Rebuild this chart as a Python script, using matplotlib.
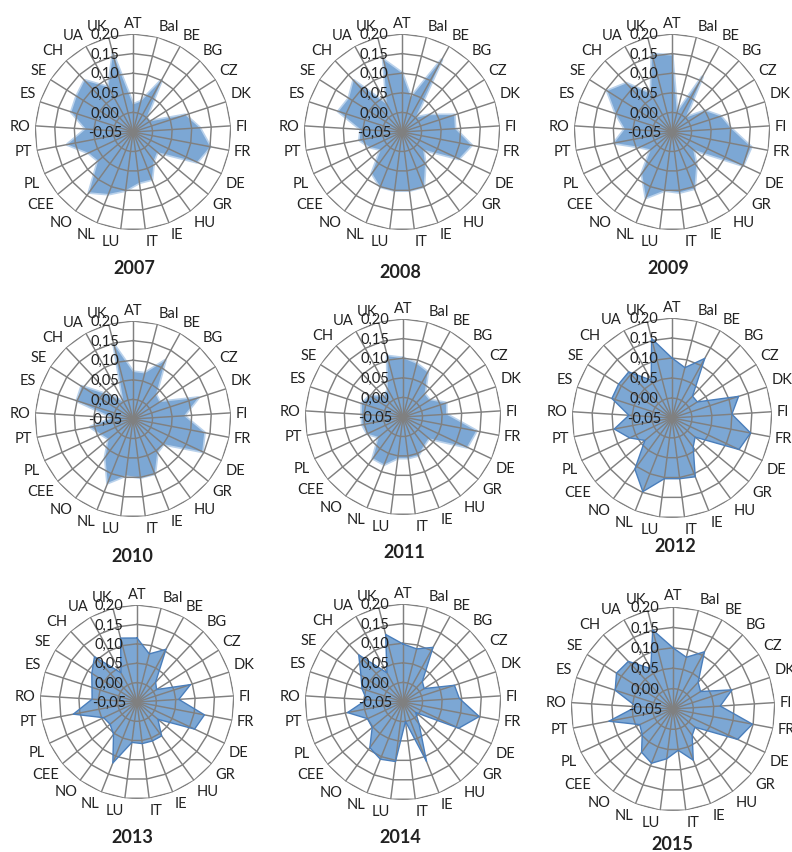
import numpy as np
import matplotlib.pyplot as plt

plt.rcParams['font.family'] = ['Lato', 'DejaVu Sans']

categories = ["AT", "Bal", "BE", "BG", "CZ", "DK", "FI", "FR", "DE", "GR", "HU", "IE",
              "IT", "LU", "NL", "NO", "CEE", "PL", "PT", "RO", "ES", "SE", "CH", "UA", "UK"]

years = ["2007", "2008", "2009", "2010", "2011", "2012", "2013", "2014", "2015"]

v2007 = [0.02, 0.03, 0.10, 0.00, 0.00, 0.09, 0.12, 0.15, 0.13, 0.03, 0.04, 0.08, 0.08,
         0.10, 0.12, 0.14, 0.065, 0.075, 0.12, 0.07, 0.115, 0.12, 0.13, 0.08, 0.155]
v2008 = [0.10, 0.04, 0.16, 0.00, 0.03, 0.09, 0.085, 0.13, 0.11, 0.02, 0.05, 0.10, 0.10,
         0.10, 0.10, 0.08, 0.02, 0.04, 0.06, 0.055, 0.12, 0.11, 0.13, 0.03, 0.14]
v2009 = [0.145, 0.00, 0.11, 0.00, 0.05, 0.08, 0.10, 0.155, 0.15, 0.02, 0.055, 0.105, 0.105,
         0.10, 0.13, 0.08, 0.02, 0.04, 0.10, 0.07, 0.10, 0.145, 0.12, 0.06, 0.155]
v2010 = [0.07, 0.07, 0.12, 0.035, 0.03, 0.125, 0.08, 0.135, 0.145, 0.05, 0.055, 0.10, 0.10,
         0.095, 0.125, 0.07, 0.03, 0.04, 0.06, 0.00, 0.10, 0.105, 0.03, 0.00, 0.145]
v2011 = [0.10, 0.09, 0.08, 0.03, 0.03, 0.065, 0.06, 0.14, 0.13, 0.035, 0.04, 0.055, 0.055,
         0.055, 0.08, 0.08, 0.03, 0.05, 0.055, 0.055, 0.06, 0.05, 0.02, 0.03, 0.11]
v2012 = [0.10, 0.08, 0.12, 0.025, 0.025, 0.125, 0.10, 0.15, 0.135, 0.025, 0.04, 0.108, 0.103,
         0.103, 0.148, 0.108, 0.038, 0.067, 0.097, 0.058, 0.108, 0.108, 0.108, 0.058, 0.155]
v2013 = [0.115, 0.078, 0.105, 0.02, 0.01, 0.095, 0.058, 0.127, 0.114, 0.02, 0.058, 0.058, 0.058,
         0.055, 0.119, 0.053, 0.04, 0.045, 0.117, 0.066, 0.072, 0.088, 0.11, 0.036, 0.12]
v2014 = [0.098, 0.09, 0.109, 0.022, 0.014, 0.088, 0.094, 0.148, 0.107, -0.008, 0.02, 0.113, 0.00,
         0.103, 0.107, 0.094, 0.052, 0.05, 0.094, 0.043, 0.06, 0.077, 0.115, 0.035, 0.128]
v2015 = [0.10, 0.081, 0.11, 0.04, 0.03, 0.102, 0.066, 0.148, 0.125, 0.02, 0.03, 0.085, 0.052,
         0.073, 0.093, 0.081, 0.048, 0.04, 0.11, 0.04, 0.099, 0.114, 0.11, 0.063, 0.15]

series = [v2007, v2008, v2009, v2010, v2011, v2012, v2013, v2014, v2015]

r_ticks = [-0.05, 0.00, 0.05, 0.10, 0.15, 0.20]
r_labels = ["-0,05", "0,00", "0,05", "0,10", "0,15", "0,20"]

# figure layout (pixels): chart centre, radius, title position
W, H = 792, 853
centres = [(133, 133), (402, 133), (672, 133),
           (133, 420), (403, 418), (672, 419),
           (137, 703), (403, 703), (673, 710)]
radii = [98, 98, 98, 98, 98, 100, 97, 98, 102]
title_pos = [(134, 268), (400, 272), (668, 268),
             (132, 557), (404, 552), (675, 547),
             (132, 838), (400, 838), (672, 845)]
outlined = [False, False, False, False, False, True, True, True, True]

FILL = '#7CA7D4'
HALO = '#A8C6E6'
EDGE = '#4A7EBB'
GRID = '#808080'
TEXT = '#222222'

fig = plt.figure(figsize=(W / 100, H / 100), dpi=100)

n = len(categories)
theta = np.linspace(0, 2 * np.pi, n, endpoint=False)
theta_c = np.append(theta, theta[0])


def label_align(t):
    s, c = np.sin(t), np.cos(t)
    ha = 'center' if abs(s) < 0.1 else ('left' if s > 0 else 'right')
    va = 'center' if abs(c) < 0.2 else ('bottom' if c > 0 else 'top')
    return ha, va


for year, vals, (cx, cy), R, (tx, ty), edge in zip(years, series, centres, radii,
                                                   title_pos, outlined):
    ax = fig.add_axes([(cx - R) / W, 1 - (cy + R) / H, 2 * R / W, 2 * R / H],
                      projection='polar')
    ax.set_theta_zero_location('N')
    ax.set_theta_direction(-1)
    ax.set_ylim(r_ticks[0], r_ticks[-1])
    ax.grid(False)
    ax.spines['polar'].set_visible(False)
    ax.set_xticks([])
    ax.set_yticks([])
    ax.patch.set_visible(False)

    vals_c = np.append(vals, vals[0])
    if edge:
        ax.fill(theta_c, vals_c, color=FILL, lw=0, zorder=1)
        ax.plot(theta_c, vals_c, color=EDGE, lw=1.0, zorder=3)
    else:
        ax.plot(theta_c, vals_c, color=HALO, lw=2.4, alpha=0.8, zorder=0.9)
        ax.fill(theta_c, vals_c, color=FILL, lw=0, zorder=1)

    # polygonal rings and spokes
    for lv in r_ticks[1:]:
        ax.plot(theta_c, [lv] * (n + 1), color=GRID, lw=1.05, zorder=2)
    for t in theta:
        ax.plot([t, t], [r_ticks[0], r_ticks[-1]], color=GRID, lw=1.05, zorder=2)

    # category labels just outside the outer ring
    r_lab = r_ticks[0] + (r_ticks[-1] - r_ticks[0]) * 1.045
    for t, c in zip(theta, categories):
        ha, va = label_align(t)
        ax.text(t, r_lab, c, ha=ha, va=va, fontsize=10.5, color=TEXT,
                clip_on=False)

    # radial value labels along the first spoke
    for lv, lb in zip(r_ticks, r_labels):
        ax.annotate(lb, xy=(0, lv), xytext=(-20, 0), textcoords='offset points',
                    ha='center', va='center', fontsize=10.5, color=TEXT, zorder=4,
                    annotation_clip=False)

    fig.text(tx / W, 1 - ty / H, year, ha='center', va='center', fontsize=13,
             fontweight='bold', color=TEXT)

fig.savefig('out.png', dpi=100)
